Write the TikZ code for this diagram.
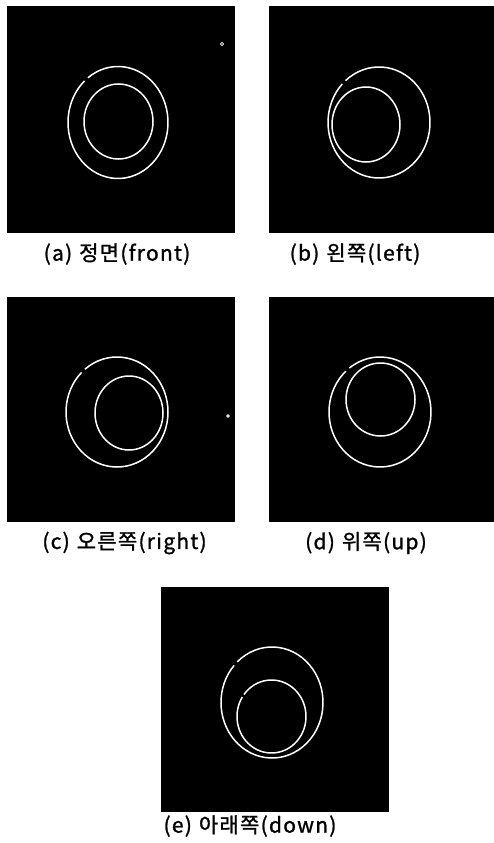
\documentclass[tikz,border=0pt]{standalone}
\usepackage{fontspec}
\setmainfont{Noto Sans CJK KR}[LetterSpace=6,FakeBold=1.2]
\begin{document}
\begin{tikzpicture}[x=1pt,y=-1pt,
  panel/.style={fill=black,draw=none},
  ring/.style={draw=white,line width=1.5pt},
  captext/.style={font=\fontsize{21}{24}\selectfont,inner sep=0pt,anchor=center},
  speck/.style={draw=white,line width=0.8pt}]
\useasboundingbox (0,0) rectangle (494,843);
% panels
\fill[panel] (7,6) rectangle (235,233);
\fill[panel] (269,6) rectangle (494,233);
\fill[panel] (7,297) rectangle (235,522);
\fill[panel] (269,297) rectangle (494,522);
\fill[panel] (161,587) rectangle (389,812);
% (a) front
\draw[ring] (118,122.5) ++(-127:50 and 56) arc[start angle=-127,end angle=228,x radius=50,y radius=56];
\draw[ring] (118.5,121.5) ellipse[x radius=34.5,y radius=37.5];
\draw[speck] (222,44) circle[radius=1.6];
% (b) left
\draw[ring] (379,122.5) ++(-131:51 and 55.5) arc[start angle=-131,end angle=224,x radius=51,y radius=55.5];
\draw[ring] (366,124.5) ellipse[x radius=34,y radius=37.5];
% (c) right
\draw[ring] (117,412) ++(-129:51 and 55) arc[start angle=-129,end angle=226,x radius=51,y radius=55];
\draw[ring] (129,413) ellipse[x radius=34,y radius=37];
\draw[speck] (228,416) circle[radius=1.2];
% (d) up
\draw[ring] (380,412) ++(-127:51 and 55) arc[start angle=-127,end angle=228,x radius=51,y radius=55];
\draw[ring] (380.5,399.5) ellipse[x radius=34.5,y radius=36.5];
% (e) down
\draw[ring] (272,702.5) ++(-133:51 and 55.5) arc[start angle=-133,end angle=222,x radius=51,y radius=55.5];
\draw[ring] (271.5,716.5) ++(-143:34.5 and 36.5) arc[start angle=-143,end angle=212,x radius=34.5,y radius=36.5];
% captions
\node[captext] (ca) at (117,254) {(a)\hspace{7pt}정면(front)};
\node[captext] (cb) at (355,254) {(b)\hspace{7pt}왼쪽(left)};
\node[captext] (cc) at (124.5,543) {(c)\hspace{7pt}오른쪽(right)};
\node[captext] (cd) at (366,543) {(d)\hspace{7pt}위쪽(up)};
\node[captext] (ce) at (250,826) {(e)\hspace{7pt}아래쪽(down)};
\end{tikzpicture}
\end{document}
